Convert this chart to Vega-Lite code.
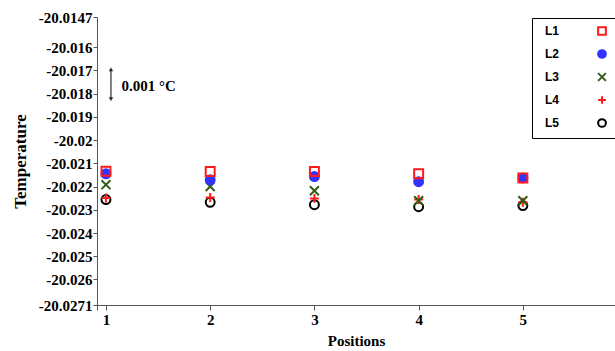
{
  "$schema": "https://vega.github.io/schema/vega-lite/v6.json",
  "width": 518,
  "height": 288,
  "autosize": {"type": "none"},
  "padding": {"left": 97, "top": 17, "right": 0, "bottom": 46},
  "background": "white",
  "config": {
    "view": {"stroke": null},
    "axis": {
      "grid": false,
      "domainColor": "#555555",
      "tickColor": "#555555",
      "labelFont": "Liberation Serif",
      "labelFontWeight": "bold",
      "labelColor": "black",
      "labelOverlap": false,
      "titleFont": "Liberation Serif",
      "titleFontWeight": "bold",
      "titleColor": "black"
    }
  },
  "datasets": {
    "temps": [
      {"pos": 1, "series": "L1", "temp": -20.02134},
      {"pos": 1, "series": "L2", "temp": -20.02145},
      {"pos": 1, "series": "L3", "temp": -20.02192},
      {"pos": 1, "series": "L4", "temp": -20.02249},
      {"pos": 1, "series": "L5", "temp": -20.02256},
      {"pos": 2, "series": "L1", "temp": -20.02135},
      {"pos": 2, "series": "L2", "temp": -20.02171},
      {"pos": 2, "series": "L3", "temp": -20.022},
      {"pos": 2, "series": "L4", "temp": -20.02247},
      {"pos": 2, "series": "L5", "temp": -20.02268},
      {"pos": 3, "series": "L1", "temp": -20.02135},
      {"pos": 3, "series": "L2", "temp": -20.02157},
      {"pos": 3, "series": "L3", "temp": -20.02218},
      {"pos": 3, "series": "L4", "temp": -20.02251},
      {"pos": 3, "series": "L5", "temp": -20.02278},
      {"pos": 4, "series": "L1", "temp": -20.02145},
      {"pos": 4, "series": "L2", "temp": -20.02179},
      {"pos": 4, "series": "L3", "temp": -20.02261},
      {"pos": 4, "series": "L4", "temp": -20.02256},
      {"pos": 4, "series": "L5", "temp": -20.02287},
      {"pos": 5, "series": "L1", "temp": -20.02163},
      {"pos": 5, "series": "L2", "temp": -20.02163},
      {"pos": 5, "series": "L3", "temp": -20.02261},
      {"pos": 5, "series": "L4", "temp": -20.02268},
      {"pos": 5, "series": "L5", "temp": -20.02282}
    ],
    "scalebar": [
      {"x": 1.048, "top": -20.01695, "bottom": -20.01824, "label": "0.001 °C", "labelX": 1.15, "labelY": -20.01768}
    ]
  },
  "encoding": {
    "y": {
      "type": "quantitative",
      "title": "Temperature",
      "scale": {"domain": [-20.0271, -20.0147], "nice": false, "zero": false},
      "axis": {
        "values": [-20.0147, -20.016, -20.017, -20.018, -20.019, -20.02, -20.021, -20.022, -20.023, -20.024, -20.025, -20.026, -20.0271],
        "labelExpr": "toString(datum.value)",
        "labelOverlap": false,
        "labelBound": false,
        "labelFlush": false,
        "tickSize": 4,
        "labelFontSize": 15,
        "labelPadding": 1,
        "titleFontSize": 17,
        "titlePadding": 9
      }
    },
    "x": {
      "type": "quantitative",
      "title": "Positions",
      "scale": {"domain": [0.914, 5.884], "nice": false, "zero": false},
      "axis": {
        "values": [0.914, 1, 2, 3, 4, 5],
        "labelExpr": "datum.value < 1 ? '' : toString(datum.value)",
        "tickSize": 5,
        "labelFontSize": 15,
        "titleFontSize": 15,
        "labelPadding": 2,
        "titlePadding": 6,
        "labelOverlap": false
      }
    }
  },
  "layer": [
    {
      "mark": {"type": "rule", "color": "#333333", "strokeWidth": 1},
      "encoding": {"y": {"datum": -20.0147, "type": "quantitative"}, "x": null}
    },
    {
      "data": {"name": "scalebar"},
      "mark": {"type": "rule", "color": "black", "strokeWidth": 1},
      "encoding": {
        "x": {"field": "x", "type": "quantitative"},
        "y": {"field": "top", "type": "quantitative"},
        "y2": {"field": "bottom"}
      }
    },
    {
      "data": {"name": "scalebar"},
      "mark": {"type": "point", "shape": "triangle-up", "filled": true, "color": "black", "size": 22},
      "encoding": {
        "x": {"field": "x", "type": "quantitative"},
        "y": {"field": "top", "type": "quantitative"}
      }
    },
    {
      "data": {"name": "scalebar"},
      "mark": {"type": "point", "shape": "triangle-down", "filled": true, "color": "black", "size": 22},
      "encoding": {
        "x": {"field": "x", "type": "quantitative"},
        "y": {"field": "bottom", "type": "quantitative"}
      }
    },
    {
      "data": {"name": "scalebar"},
      "mark": {"type": "text", "align": "left", "baseline": "middle", "font": "Liberation Serif", "fontWeight": "bold", "fontSize": 15, "color": "black"},
      "encoding": {
        "x": {"field": "labelX", "type": "quantitative"},
        "y": {"field": "labelY", "type": "quantitative"},
        "text": {"field": "label"}
      }
    },
    {
      "data": {"name": "temps"},
      "mark": {"type": "point", "size": 80, "strokeWidth": 2, "opacity": 1},
      "encoding": {
        "x": {"field": "pos", "type": "quantitative"},
        "y": {"field": "temp", "type": "quantitative"},
        "stroke": {
          "field": "series",
          "type": "nominal",
          "scale": {"domain": ["L1", "L2", "L3", "L4", "L5"], "range": ["#ff1a1a", "#3333ff", "#2f5d17", "#ff1a1a", "#000000"]},
          "legend": null
        },
        "fill": {
          "field": "series",
          "type": "nominal",
          "scale": {"domain": ["L1", "L2", "L3", "L4", "L5"], "range": ["transparent", "#3333ff", "transparent", "transparent", "transparent"]},
          "legend": null
        },
        "shape": {
          "field": "series",
          "type": "nominal",
          "scale": {"domain": ["L1", "L2", "L3", "L4", "L5"], "range": ["square", "circle", "M-1,-1L1,1M-1,1L1,-1", "M-1,0L1,0M0,-1L0,1", "circle"]},
          "legend": {
            "title": null,
            "orient": "none",
            "legendX": 435,
            "legendY": 1,
            "padding": 7,
            "strokeColor": "black",
            "fillColor": "white",
            "labelFont": "Liberation Sans",
            "labelFontWeight": "bold",
            "labelFontSize": 12,
            "labelColor": "black",
            "labelOffset": -63,
            "symbolOffset": 57,
            "symbolSize": 60,
            "symbolStrokeWidth": 2,
            "rowPadding": 7,
            "symbolStrokeColor": {"expr": "datum.value == 'L1' || datum.value == 'L4' ? '#ff1a1a' : datum.value == 'L2' ? '#3333ff' : datum.value == 'L3' ? '#2f5d17' : '#000000'"}
          }
        },
        "order": {"field": "series", "sort": "descending"}
      }
    }
  ]
}
